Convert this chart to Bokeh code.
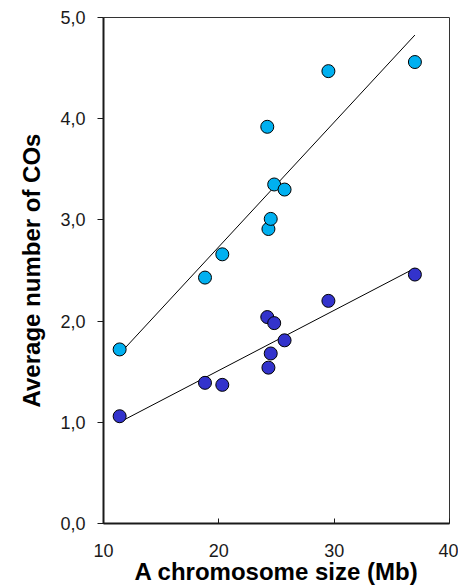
import numpy as np
from bokeh.plotting import figure
from bokeh.models import FixedTicker, Range1d
from bokeh.embed import file_html
from bokeh.resources import INLINE

# Data
chrom_size = [11.4, 18.8, 20.3, 24.3, 24.5, 24.2, 24.8, 25.7, 29.5, 37.0]
cos_light = [1.72, 2.43, 2.66, 2.91, 3.01, 3.92, 3.35, 3.30, 4.47, 4.56]
cos_dark = [1.06, 1.39, 1.37, 1.54, 1.68, 2.04, 1.98, 1.81, 2.20, 2.46]

x_ticks = [10, 20, 30, 40]
y_ticks = [0, 1, 2, 3, 4, 5]
y_tick_labels = ["0,0", "1,0", "2,0", "3,0", "4,0", "5,0"]

LIGHT = "#00B0F0"
DARK = "#3333CC"

p = figure(frame_width=346, frame_height=506, output_backend="svg", toolbar_location=None,
           x_range=Range1d(10, 40), y_range=Range1d(0, 5),
           min_border_left=103, min_border_right=9, min_border_top=17,
           min_border_bottom=20)
p.grid.visible = False
p.outline_line_color = "#333333"
p.outline_line_width = 1
p.background_fill_color = "white"
p.border_fill_color = "white"

# regression lines from data
xs = np.array(chrom_size)
xr = np.array([xs.min(), xs.max()])
for ys in (cos_light, cos_dark):
    k, b = np.polyfit(xs, np.array(ys), 1)
    p.line(xr, k * xr + b, line_color="black", line_width=1)

p.scatter(chrom_size, cos_light, size=13, fill_color=LIGHT, line_color="black", line_width=1)
p.scatter(chrom_size, cos_dark, size=13, fill_color=DARK, line_color="black", line_width=1)

# axes
p.xaxis.ticker = FixedTicker(ticks=x_ticks)
p.yaxis.ticker = FixedTicker(ticks=y_ticks)
p.yaxis.major_label_overrides = {t: l for t, l in zip(y_ticks, y_tick_labels)}
p.xaxis.minor_tick_line_color = None
p.yaxis.minor_tick_line_color = None

for ax in (p.xaxis, p.yaxis):
    ax.axis_line_width = 2
    ax.axis_line_color = "#1a1a1a"
    ax.major_tick_line_color = "#1a1a1a"
    ax.major_tick_line_width = 1
    ax.major_label_text_font = "Liberation Sans"
    ax.major_label_text_font_size = "18px"
    ax.major_label_text_color = "#1a1a1a"
    ax.axis_label_text_font = "Liberation Sans"
    ax.axis_label_text_font_style = "bold"
    ax.axis_label_text_font_size = "24px"
    ax.axis_label_text_color = "black"

p.xaxis.major_tick_in = 5
p.xaxis.major_tick_out = 0
p.xaxis.major_label_standoff = 20
p.xaxis.axis_label_standoff = -2
p.xaxis.axis_label = "A chromosome size (Mb)"

p.yaxis.major_tick_in = 0
p.yaxis.major_tick_out = 6
p.yaxis.major_label_standoff = 12
p.yaxis.axis_label_standoff = 12
p.yaxis.axis_label = "Average number of COs"

open("out.html", "w").write(file_html(p, INLINE))
